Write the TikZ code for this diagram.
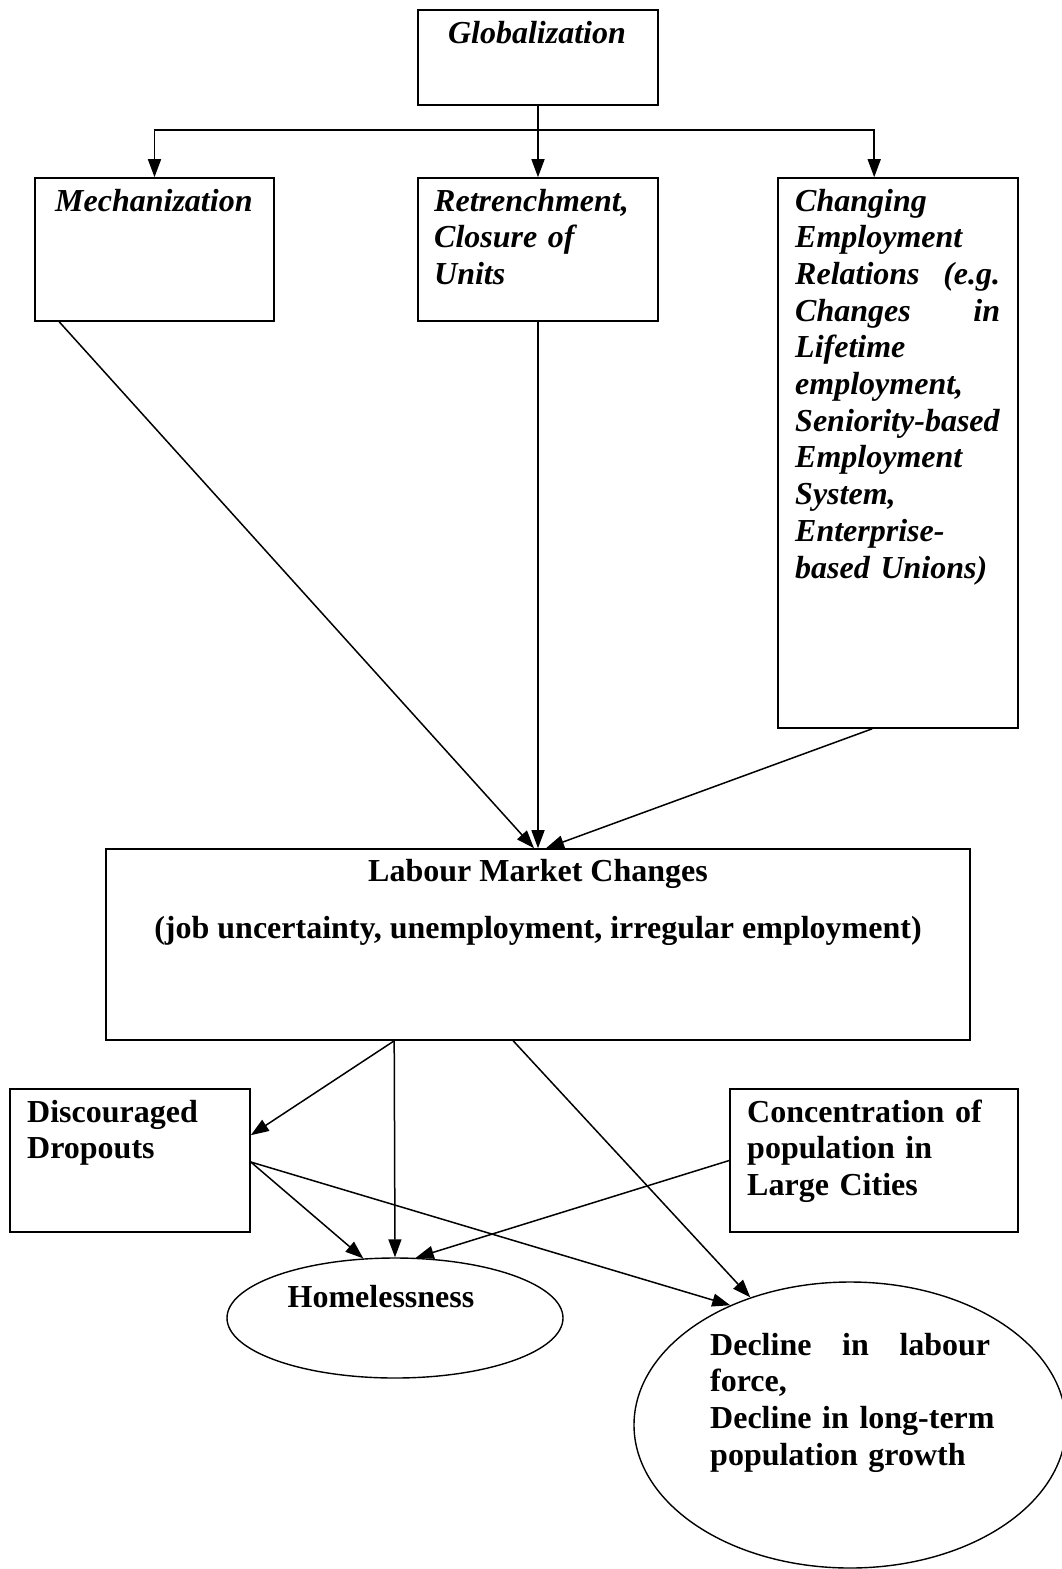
\documentclass[tikz,border=0pt]{standalone}
\usepackage{fontspec}
\setmainfont{Liberation Serif}
\usetikzlibrary{arrows.meta,shapes.geometric,calc}
\tikzset{
  box/.style={draw, line width=1.6pt, rectangle, inner sep=0pt},
  oval/.style={draw, line width=1.4pt, ellipse, inner sep=0pt},
  conn/.style={line width=1.5pt},
  arr/.style={line width=1.5pt, -{Triangle[length=18pt,width=13pt]}},
  bi/.style={font=\fontsize{32pt}{36.7pt}\selectfont\bfseries\itshape, inner sep=0pt},
  bf/.style={font=\fontsize{32pt}{36.7pt}\selectfont\bfseries, inner sep=0pt},
}
\begin{document}
\begin{tikzpicture}[x=1pt,y=-1pt]
\useasboundingbox (0,0) rectangle (1062,1569);
% boxes
\node[box, minimum width=240pt, minimum height=95pt] (glob) at (538,57.5) {};
\node[box, minimum width=239pt, minimum height=143pt] (mech) at (154.5,249.5) {};
\node[box, minimum width=240pt, minimum height=143pt] (retr) at (538,249.5) {};
\node[box, minimum width=240pt, minimum height=550pt] (chg) at (898,453) {};
\node[box, minimum width=864pt, minimum height=191pt] (lab) at (538,944.5) {};
\node[box, minimum width=240pt, minimum height=143pt] (disc) at (130,1160.5) {};
\node[box, minimum width=288pt, minimum height=143pt] (conc) at (874,1160.5) {};
\node[oval, minimum width=336pt, minimum height=120pt] (home) at (395,1318) {};
\node[oval, minimum width=432pt, minimum height=286pt] (decl) at (850,1425) {};
% texts
\node[bi, anchor=base] (tglob) at (537,43) {Globalization};
\node[bi, anchor=base west] (tmech) at (55,211) {Mechanization};
\node[bi, anchor=base west, text width=215pt, align=left] (tretr) at (434,211) {Retrenchment,\\Closure of\\Units};
\node[bi, anchor=base west, text width=205pt, align=left] (tchg) at (795,211) {Changing\\Employment\\Relations\hfill(e.g.\\Changes\hfill in\\Lifetime\\employment,\\Seniority-based\\Employment\\System,\\Enterprise-\\based Unions)};
\node[bf, anchor=base] (tlab1) at (538,881) {Labour Market Changes};
\node[bf, anchor=base] (tlab2) at (538,938) {(job uncertainty, unemployment, irregular employment)};
\node[bf, anchor=base west, text width=215pt, align=left] (tdisc) at (27,1122) {Discouraged\\Dropouts};
\node[bf, anchor=base west, text width=265pt, align=left] (tconc) at (747,1122) {Concentration of\\population in\\Large Cities};
\node[bf, anchor=base] (thome) at (381,1307) {Homelessness};
\node[bf, anchor=base west, text width=300pt, align=left] (tdecl) at (710,1355) {\makebox[280pt]{Decline\hfill in\hfill labour}\\force,\\Decline in long-term\\population growth};
% connectors
\coordinate (jn) at (538,130);
\draw[conn] (glob.south) -- (jn);
\draw[arr] (jn) -| (mech.north);
\draw[arr] (jn) -- (retr.north);
\draw[arr] (jn) -| ($(chg.north west)+(97,0)$);
\draw[arr] ($(mech.south west)+(25,0)$) -- ($(lab.north)+(-4,0)$);
\draw[arr] (retr.south) -- (lab.north);
\draw[arr] ($(chg.south west)+(95,0)$) -- ($(lab.north)+(8,0)$);
\draw[arr] ($(lab.south west)+(289,0)$) -- ($(disc.north east)+(0,47)$);
\draw[arr] ($(lab.south west)+(289,0)$) -- (home.north);
\draw[arr] ($(lab.south west)+(408,0)$) -- (decl.128);
\draw[arr] ($(disc.east)+(0,1.5)$) -- (home.118);
\draw[arr] ($(disc.east)+(0,1.5)$) -- (decl.135);
\draw[arr] (conc.west) -- (home.71);
\end{tikzpicture}
\end{document}
